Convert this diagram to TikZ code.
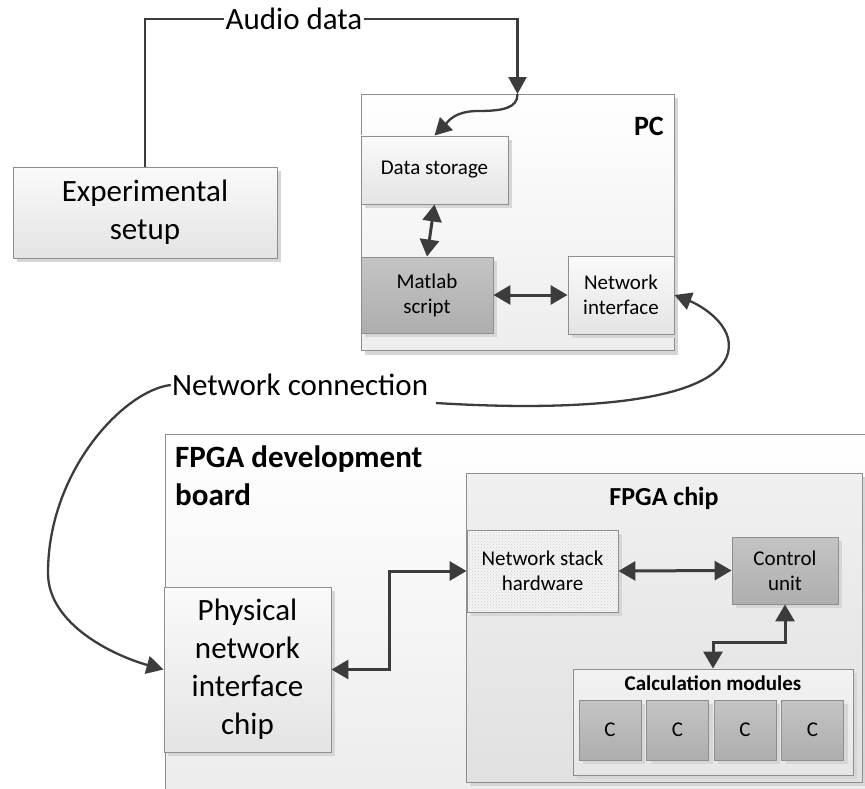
\documentclass[tikz,border=0pt]{standalone}
\usepackage{fontspec}
\setmainfont{Carlito}
\usetikzlibrary{arrows.meta,shadows,patterns}

\definecolor{linec}{HTML}{3C3C3C}
\definecolor{edgec}{HTML}{8E8E8E}
\definecolor{shadowc}{HTML}{D6D6D6}
\definecolor{lightTop}{HTML}{FAFAFA}
\definecolor{lightBot}{HTML}{E4E4E4}
\definecolor{darkTop}{HTML}{C4C4C4}
\definecolor{darkBot}{HTML}{AEAEAE}
\definecolor{chipTop}{HTML}{F0F0F0}
\definecolor{chipBot}{HTML}{E1E1E1}
\definecolor{pcBot}{HTML}{EDEDED}
\definecolor{boardBot}{HTML}{EBEBEB}
\definecolor{calcTop}{HTML}{F2F2F2}
\definecolor{calcBot}{HTML}{E6E6E6}
\definecolor{hatchc}{HTML}{CFCFCF}
\definecolor{hatchbg}{HTML}{F4F4F4}

\newcommand\fsBig{\fontsize{31}{38}\selectfont}
\newcommand\fsSmall{\fontsize{21}{25}\selectfont}

\tikzset{
  box/.style={draw=edgec, line width=0.9pt, rectangle, inner sep=0pt, align=center,
    drop shadow={shadow xshift=4pt, shadow yshift=-4pt, fill=shadowc, opacity=1}},
  lightbox/.style={box, top color=lightTop, bottom color=lightBot},
  darkbox/.style={box, top color=darkTop, bottom color=darkBot},
  hatchbox/.style={box, preaction={fill=hatchbg}, pattern=crosshatch dots, pattern color=hatchc},
  conn/.style={draw=linec, line width=2.3pt, >={Triangle[length=17pt,width=18pt]}},
  link/.style={draw=linec, line width=3pt, >={Triangle[length=17pt,width=19pt]}},
  lbl/.style={inner sep=1pt, font=\fsBig},
}

\begin{document}
\begin{tikzpicture}[x=1pt,y=-1pt]
\useasboundingbox (0,0) rectangle (865,789);
\begin{scope}
\clip (0,0) rectangle (865,789);

% ---------- PC ----------
\node[box, top color=white, bottom color=pcBot, minimum width=313pt, minimum height=256pt] (pc) at (517.5,222.5) {};
\node[anchor=base east, inner sep=0pt, font=\bfseries\fontsize{28}{34}\selectfont] (pclbl) at (664,136) {PC};

\node[lightbox, minimum width=147pt, minimum height=68pt, font=\fsSmall] (ds) at (434.5,170) {Data storage};
\node[darkbox, minimum width=132pt, minimum height=76pt, font=\fsSmall] (ml) at (427,295) {Matlab\\script};
\node[lightbox, minimum width=106pt, minimum height=78pt, font=\fsSmall] (ni) at (621,295) {Network\\interface};

% ---------- Experimental setup ----------
\node[lightbox, minimum width=264pt, minimum height=91pt, font=\fsBig] (exp) at (145,212.5) {Experimental\\setup};

% ---------- FPGA development board ----------
\node[box, top color=white, bottom color=boardBot, minimum width=720pt, minimum height=380pt] (board) at (525,624) {};
\node[anchor=north west, inner sep=0pt, align=left, font=\bfseries\fontsize{31}{38}\selectfont] (boardlbl) at (175,446) {FPGA development\\board};

\node[box, top color=chipTop, bottom color=chipBot, minimum width=396pt, minimum height=309pt] (chip) at (664,627.5) {};
\node[anchor=base, inner sep=0pt, font=\bfseries\fontsize{26}{31}\selectfont] (chiplbl) at (664,505) {FPGA chip};

\node[lightbox, minimum width=167pt, minimum height=165pt, font=\fsBig] (phys) at (247.5,669.5) {Physical\\network\\interface\\chip};

\node[hatchbox, minimum width=151pt, minimum height=82pt, font=\fsSmall] (ns) at (542.5,571) {Network stack\\hardware};
\node[darkbox, minimum width=106pt, minimum height=67pt, font=\fsSmall] (cu) at (785,570.5) {Control\\unit};

\node[box, top color=calcTop, bottom color=calcBot, minimum width=280pt, minimum height=106pt] (calc) at (713,722) {};
\node[anchor=base, inner sep=0pt, font=\bfseries\fontsize{21}{25}\selectfont] (calclbl) at (713,690) {Calculation modules};

\foreach \i/\cx in {1/610, 2/677.5, 3/745, 4/812.5}
  \node[darkbox, minimum width=62pt, minimum height=60pt, font=\fsSmall] (c\i) at (\cx,730) {C};

% ---------- connectors ----------
\node[lbl, fill=white] (audio) at (294,19) {Audio data};
\draw[conn] (exp.north) |- (audio.west);
\draw[conn, ->] (audio.east) -| (pc.north);
\draw[conn, ->] (pc.north) .. controls +(0,14) and +(25,0) .. (478,111)
                           .. controls +(-25,0) and +(12,-12) .. (ds.north);

\draw[link, <->] (ds.south) -- (ml.north);
\draw[link, <->] (ml.east) -- (ni.west);

\node[lbl] (net) at (300,385) {Network connection};
\coordinate (netR) at (436,403);
\coordinate (netTurn) at (728,353);
\coordinate (netBend) at (48,573);
\draw[conn, ->] (net.west) .. controls (125,390) and (48,470) .. (netBend)
                           .. controls (48,625) and (115,656) .. (phys.west);
\draw[conn, ->] (netR) .. controls (580,412) and (715,402) .. (netTurn)
                       .. controls (735,325) and (700,305) .. (ni.east);

\draw[link, <->] (phys.east) -- ++(58,0) |- (ns.west);
\draw[link, <->] (ns.east) -- (cu.west);
\draw[link, <->] (cu.south) -- ++(0,38) -| (calc.north);
\end{scope}
\end{tikzpicture}
\end{document}
